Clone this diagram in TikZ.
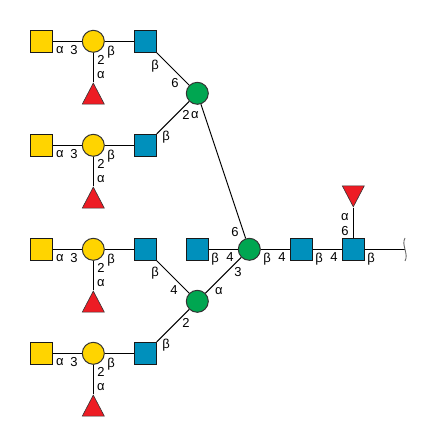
\documentclass[tikz,border=0pt]{standalone}
\usepackage{fontspec}
\setmainfont{Liberation Sans}
\usetikzlibrary{shapes.geometric}
\definecolor{galyellow}{RGB}{255,212,0}
\definecolor{glcblue}{RGB}{0,144,188}
\definecolor{manngreen}{RGB}{0,166,81}
\definecolor{fucred}{RGB}{237,28,36}

\begin{document}
\begin{tikzpicture}[x=1pt, y=-1pt,
    sq/.style={draw=black!90, line width=1pt, rectangle, minimum size=22pt, inner sep=0pt, fill=#1},
    rnd/.style={draw=black!80, line width=1pt, circle, minimum size=22pt, inner sep=0pt, fill=#1},
    tri/.style={draw=black!80, line width=0.6pt, isosceles triangle, isosceles triangle stretches=true,
      minimum width=22pt, minimum height=21pt, inner sep=0pt, fill=fucred, shape border rotate=#1},
    bond/.style={line width=1pt},
    lab/.style={font=\fontsize{13}{13}\selectfont, inner sep=0pt}]
  \useasboundingbox (0,0) rectangle (446,446);

  \foreach \r/\y in {a/41.3, b/145.3, c/249.3, d/353.3} {
    \node[sq=galyellow] (gal\r) at (41.5,\y) {};
    \node[rnd=galyellow] (hex\r) at (93.3,\y) {};
    \node[sq=glcblue] (nag\r) at (145.3,\y) {};
    \node[tri=90, anchor=apex] (fuc\r) at (93.3,\y+41) {};
    \draw[bond] (gal\r) -- (hex\r);
    \draw[bond] (hex\r) -- (nag\r);
    \draw[bond] (hex\r) -- (fuc\r.apex);
    \node[lab] (la\r) at (60,\y+9) {α};
    \node[lab] (lt\r) at (74,\y+9) {3};
    \node[lab] (lb\r) at (111,\y+11) {β};
    \node[lab] (ls\r) at (101,\y+19) {2};
    \node[lab] (lf\r) at (101,\y+34) {α};
  }

  \node[rnd=manngreen] (manu) at (197.3,93.3) {};
  \node[rnd=manngreen] (manl) at (197.3,301.3) {};
  \node[rnd=manngreen] (core) at (249.3,249.3) {};
  \node[sq=glcblue] (bis) at (197.3,249.3) {};
  \node[sq=glcblue] (nagx) at (301.3,249.3) {};
  \node[sq=glcblue] (nagy) at (353.3,249.3) {};
  \node[tri=-90, anchor=apex] (fucc) at (353.3,207.6) {};
  \coordinate (rend) at (405,249.3);

  \draw[bond] (naga) -- (manu);
  \draw[bond] (nagb) -- (manu);
  \draw[bond] (nagc) -- (manl);
  \draw[bond] (nagd) -- (manl);
  \draw[bond] (manu) -- (core);
  \draw[bond] (manl) -- (core);
  \draw[bond] (bis) -- (core);
  \draw[bond] (core) -- (nagx);
  \draw[bond] (nagx) -- (nagy);
  \draw[bond] (nagy) -- (fucc.apex);
  \draw[bond] (nagy) -- (rend);
  \draw[black!60, line width=0.9pt] (405,238) .. controls (401,245) and (409,254) .. (405,261);

  \node[lab] (l1) at (155,66) {β};
  \node[lab] (l2) at (175,83) {6};
  \node[lab] (l3) at (186,115) {2};
  \node[lab] (l4) at (195,115) {α};
  \node[lab] (l5) at (166,137) {β};
  \node[lab] (l6) at (155,273) {β};
  \node[lab] (l7) at (174,290) {4};
  \node[lab] (l8) at (186,323) {2};
  \node[lab] (l9) at (166,345) {β};
  \node[lab] (l10) at (215,259) {β};
  \node[lab] (l11) at (230,257) {4};
  \node[lab] (l12) at (235,232) {6};
  \node[lab] (l13) at (238,272) {3};
  \node[lab] (l14) at (219,291) {α};
  \node[lab] (l15) at (267,259) {β};
  \node[lab] (l16) at (282,257) {4};
  \node[lab] (l17) at (319,259) {β};
  \node[lab] (l18) at (334,257) {4};
  \node[lab] (l19) at (345,217) {α};
  \node[lab] (l20) at (345,231) {6};
  \node[lab] (l21) at (371,259) {β};
\end{tikzpicture}
\end{document}
